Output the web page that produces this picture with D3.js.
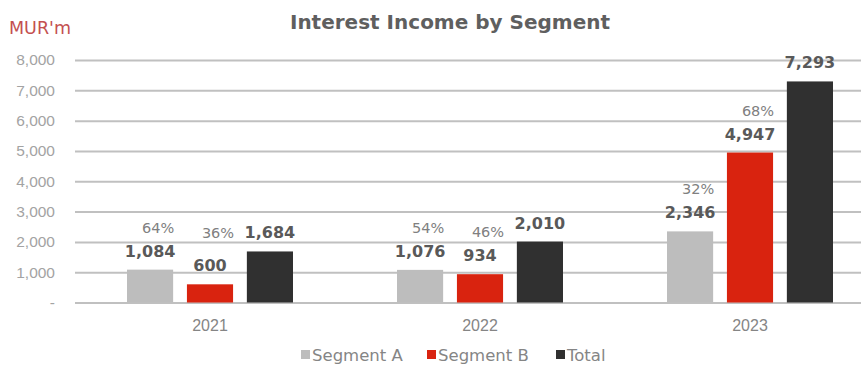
<!DOCTYPE html>
<html>
<head>
<meta charset="utf-8">
<script src="https://cdn.jsdelivr.net/npm/d3@7/dist/d3.min.js"></script>
<style>
  html, body { margin: 0; padding: 0; background: #fff; }
  svg { display: block; font-family: "DejaVu Sans", Lato, sans-serif; }
</style>
</head>
<body>
<svg id="chart" width="861" height="371"></svg>
<script>
// Interest income by segment, MUR millions
const years = ["2021", "2022", "2023"];
const seriesNames = ["Segment A", "Segment B", "Total"];
const segmentA = [1084, 1076, 2346];
const segmentB = [600, 934, 4947];
const total = [1684, 2010, 7293];
const shareA = ["64%", "54%", "32%"];
const shareB = ["36%", "46%", "68%"];
const yTicks = [0, 1000, 2000, 3000, 4000, 5000, 6000, 7000, 8000];

const colors = { "Segment A": "#bdbdbd", "Segment B": "#d9230f", "Total": "#303030" };

const rows = years.map((yr, i) => ({
  year: yr,
  bars: [
    { key: "Segment A", value: segmentA[i], share: shareA[i] },
    { key: "Segment B", value: segmentB[i], share: shareB[i] },
    { key: "Total", value: total[i], share: null }
  ]
}));

const svg = d3.select("#chart");
const plotLeft = 75, plotRight = 885, plotTop = 60, plotBottom = 302.5;

const x0 = d3.scaleBand().domain(years).range([plotLeft, plotRight]);
const x1 = d3.scaleBand().domain(seriesNames).range([-83, 83]).paddingInner(0.23).paddingOuter(0);
const y = d3.scaleLinear().domain([0, 8000]).range([plotBottom, plotTop]);

// gridlines and y labels
const yAxis = d3.axisLeft(y)
  .tickValues(yTicks)
  .tickSize(-(plotRight - plotLeft))
  .tickPadding(20)
  .tickFormat(d => d === 0 ? "-" : d3.format(",")(d));

const gy = svg.append("g").attr("transform", `translate(${plotLeft},0)`).call(yAxis);
gy.select(".domain").remove();
gy.selectAll(".tick line").attr("stroke", "#c0c0c0").attr("stroke-width", 2);
gy.selectAll(".tick text")
  .attr("fill", "#a3a3a3")
  .attr("font-size", 15.5)
  .attr("x", -20);

// x labels
const xAxis = d3.axisBottom(x0).tickSize(0).tickPadding(17);
const gx = svg.append("g").attr("transform", `translate(0,${plotBottom})`).call(xAxis);
gx.select(".domain").remove();
gx.selectAll(".tick text").attr("fill", "#858585").attr("font-size", 16);

// bars
const groups = svg.append("g").selectAll("g")
  .data(rows).join("g")
  .attr("transform", d => `translate(${x0(d.year) + x0.bandwidth() / 2},0)`);

groups.selectAll("rect")
  .data(d => d.bars).join("rect")
  .attr("x", d => x1(d.key))
  .attr("width", x1.bandwidth())
  .attr("y", d => y(d.value))
  .attr("height", d => y(0) - y(d.value))
  .attr("fill", d => colors[d.key]);

// value labels
groups.selectAll("text.val")
  .data(d => d.bars).join("text")
  .attr("class", "val")
  .attr("x", d => x1(d.key) + x1.bandwidth() / 2)
  .attr("y", d => y(d.value) - 13)
  .attr("text-anchor", "middle")
  .attr("font-size", 16)
  .attr("font-weight", 700)
  .attr("fill", "#595959")
  .text(d => d3.format(",")(d.value));

// share labels (the small Segment B share in 2021 sits a little higher)
groups.selectAll("text.share")
  .data(d => d.bars.filter(b => b.share)).join("text")
  .attr("class", "share")
  .attr("x", d => x1(d.key) + x1.bandwidth() / 2 + 8)
  .attr("y", d => Math.min(y(d.value) - 37, 238))
  .attr("text-anchor", "middle")
  .attr("font-size", 14.5)
  .attr("fill", "#808080")
  .text(d => d.share);

// title and unit
svg.append("text")
  .attr("x", 450).attr("y", 29)
  .attr("text-anchor", "middle")
  .attr("font-size", 20)
  .attr("font-weight", 700)
  .attr("fill", "#5f5f5f")
  .text("Interest Income by Segment");

svg.append("text")
  .attr("x", 9).attr("y", 34)
  .attr("font-size", 17.5)
  .attr("fill", "#c45050")
  .text("MUR'm");

// legend
const legendX = [301, 427, 556];
const legend = svg.append("g").selectAll("g")
  .data(seriesNames).join("g")
  .attr("transform", (d, i) => `translate(${legendX[i]},355)`);
legend.append("rect")
  .attr("x", 0).attr("y", -5).attr("width", 9).attr("height", 9)
  .attr("fill", d => colors[d]);
legend.append("text")
  .attr("x", 11).attr("y", 6)
  .attr("font-size", 16.5)
  .attr("fill", "#858585")
  .text(d => d);
</script>
</body>
</html>
